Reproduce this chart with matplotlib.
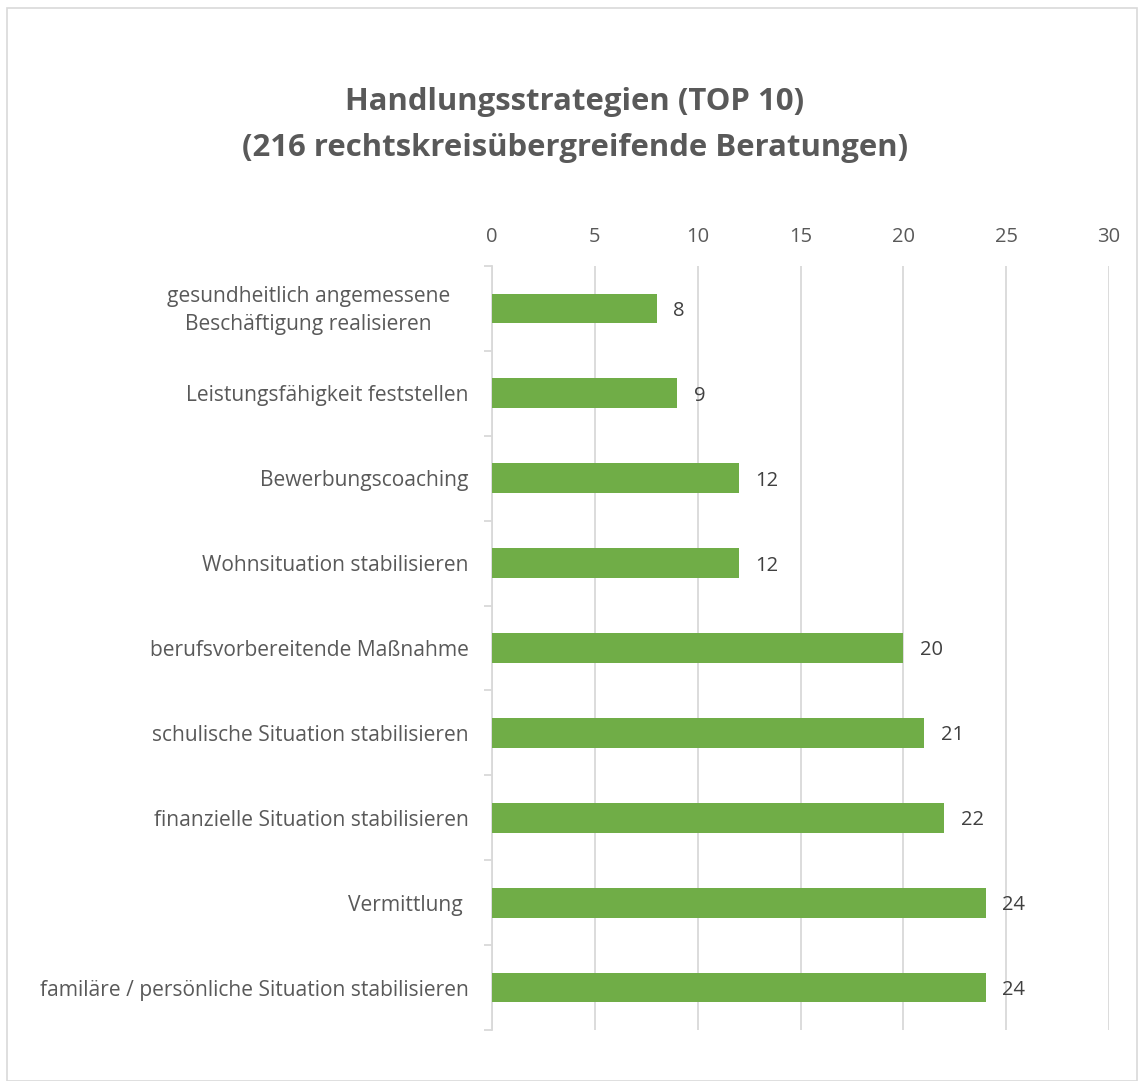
import matplotlib
matplotlib.use("Agg")
import matplotlib.pyplot as plt
from matplotlib.patches import Rectangle
from matplotlib.ticker import FixedLocator

plt.rcParams['font.family'] = ['Open Sans', 'DejaVu Sans']

categories = [
    "gesundheitlich angemessene\nBeschäftigung realisieren",
    "Leistungsfähigkeit feststellen",
    "Bewerbungscoaching",
    "Wohnsituation stabilisieren",
    "berufsvorbereitende Maßnahme",
    "schulische Situation stabilisieren",
    "finanzielle Situation stabilisieren",
    "Vermittlung ",
    "familäre / persönliche Situation stabilisieren",
]
values = [8, 9, 12, 12, 20, 21, 22, 24, 24]
xticks = [0, 5, 10, 15, 20, 25, 30]
title = "Handlungsstrategien (TOP 10)\n(216 rechtskreisübergreifende Beratungen)"

text_color = "#595959"
bar_color = "#70AD47"
grid_color = "#D9D9D9"
label_size = 15.1

fig = plt.figure(figsize=(11.38, 10.81), dpi=100)
ax = fig.add_axes([492/1138, 1-1030/1081, (1109-492)/1138, (1030-266)/1081])

y = list(range(len(categories)))
ax.barh(y, values, height=0.35, color=bar_color, zorder=3)
ax.set_ylim(len(categories)-0.5, -0.5)
ax.set_xlim(0, 30)
ax.set_xticks(xticks)
ax.set_xticklabels([str(t) for t in xticks])
ax.xaxis.tick_top()
ax.tick_params(axis='x', length=0, pad=14, labelsize=14.5, labelcolor=text_color)
ax.grid(axis='x', color=grid_color, linewidth=1.3, zorder=0)

# multi-line labels are drawn as a centred block (like the original), single-line as tick labels
ax.set_yticks(y)
ax.set_yticklabels(["" if "\n" in c else c for c in categories], fontsize=label_size, color=text_color)
for yi, c in zip(y, categories):
    if "\n" in c:
        ax.annotate(c, xy=(0, yi), xycoords=('axes fraction', 'data'), xytext=(-30, -1.5),
                    textcoords='offset points', ha='right', va='center', multialignment='center',
                    fontsize=label_size, color=text_color, linespacing=1.4)
ax.tick_params(axis='y', which='major', length=0, pad=17)
ax.yaxis.set_minor_locator(FixedLocator([k - 0.5 for k in range(len(categories)+1)]))
ax.tick_params(axis='y', which='minor', length=6, color=grid_color, width=1.3)

for s in ['top', 'right', 'bottom']:
    ax.spines[s].set_visible(False)
ax.spines['left'].set_color(grid_color)
ax.spines['left'].set_linewidth(1.3)

for yi, v in zip(y, values):
    ax.annotate(str(v), xy=(v, yi), xytext=(12, 0), textcoords='offset points',
                va='center_baseline', ha='left', fontsize=14.5, color="#404040")

fig.text(575/1138, 1-125/1081, title, ha='center', va='center', fontsize=22.4,
         fontweight='bold', color=text_color, linespacing=1.68)

fig.patches.append(Rectangle((7/1138, 0.0), 1-7/1138-0.0005, 1-8/1081, transform=fig.transFigure,
                             fill=False, edgecolor="#D9D9D9", linewidth=1.2))

fig.savefig("out.png", dpi=100)
